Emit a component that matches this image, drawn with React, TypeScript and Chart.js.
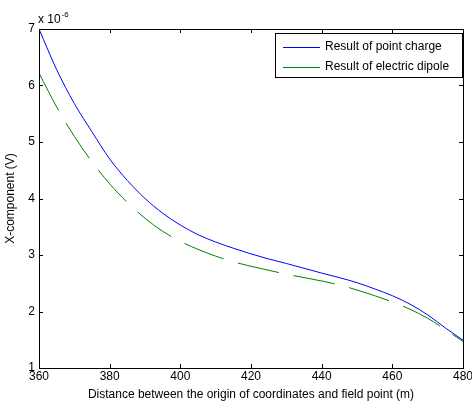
import React, { useEffect, useRef } from "react";
import { Chart, registerables } from "chart.js";

Chart.register(...registerables);

// x positions (m) and values in units of 1e-6 V
const distances = [360, 365, 370, 375, 380, 385, 390, 395, 400, 405, 410, 415, 420, 425, 430, 435, 440, 445, 450, 455, 460, 465, 470, 475, 480];
const pointCharge = [7.0, 6.28, 5.68, 5.18, 4.7, 4.32, 4.0, 3.74, 3.53, 3.36, 3.23, 3.12, 3.02, 2.93, 2.85, 2.765, 2.68, 2.6, 2.51, 2.4, 2.28, 2.13, 1.94, 1.71, 1.49];
const electricDipole = [6.22, 5.62, 5.1, 4.65, 4.26, 3.93, 3.65, 3.42, 3.24, 3.1, 2.98, 2.88, 2.8, 2.73, 2.66, 2.6, 2.54, 2.47, 2.38, 2.28, 2.17, 2.04, 1.88, 1.68, 1.47];
const seriesNames = ["Result of point charge", "Result of electric dipole"];
const seriesColors = ["#0000ff", "#008000"];
const xTicks = [360, 380, 400, 420, 440, 460, 480];
const yTicks = [1, 2, 3, 4, 5, 6, 7];
const xTitle = "Distance between the origin of coordinates and field point (m)";
const yTitle = "X-component (V)";

const FONT = "Liberation Sans, Arial, sans-serif";

const framePlugin = {
  id: "matlabFrame",
  afterDatasetsDraw(chart: any) {
    const { ctx, chartArea: a, scales } = chart;
    const xs = scales.x;
    const ys = scales.y;
    ctx.save();
    ctx.strokeStyle = "#000";
    ctx.lineWidth = 1;
    // box
    ctx.strokeRect(Math.round(a.left) + 0.5, Math.round(a.top) + 0.5, Math.round(a.right - a.left), Math.round(a.bottom - a.top));
    // inward ticks
    const tl = 4;
    ctx.beginPath();
    xTicks.forEach((v) => {
      const px = Math.round(xs.getPixelForValue(v)) + 0.5;
      ctx.moveTo(px, a.bottom);
      ctx.lineTo(px, a.bottom - tl);
      ctx.moveTo(px, a.top);
      ctx.lineTo(px, a.top + tl);
    });
    yTicks.forEach((v) => {
      const py = Math.round(ys.getPixelForValue(v)) + 0.5;
      ctx.moveTo(a.left, py);
      ctx.lineTo(a.left + tl, py);
      ctx.moveTo(a.right, py);
      ctx.lineTo(a.right - tl, py);
    });
    ctx.stroke();

    ctx.fillStyle = "#000";
    // x tick labels
    ctx.font = `12px ${FONT}`;
    ctx.textAlign = "center";
    ctx.textBaseline = "top";
    xTicks.forEach((v) => {
      ctx.fillText(String(v), xs.getPixelForValue(v), a.bottom + 3);
    });

    // exponent label
    ctx.textBaseline = "alphabetic";
    ctx.textAlign = "left";
    ctx.fillText("x 10", a.left - 1, a.top - 6);
    const w = ctx.measureText("x 10").width;
    ctx.font = `8px ${FONT}`;
    ctx.fillText("-6", a.left - 1 + w + 1, a.top - 12);

    // axis titles
    ctx.font = `12px ${FONT}`;
    ctx.textAlign = "center";
    ctx.textBaseline = "middle";
    ctx.fillText(xTitle, (a.left + a.right) / 2, 395);
    ctx.save();
    ctx.translate(11, (a.top + a.bottom) / 2);
    ctx.rotate(-Math.PI / 2);
    ctx.fillText(yTitle, 0, 0);
    ctx.restore();

    // legend
    const lx = 275.5, ly = 33.5, lw = 187, lh = 44;
    ctx.fillStyle = "#fff";
    ctx.fillRect(lx, ly, lw, lh);
    ctx.strokeStyle = "#000";
    ctx.strokeRect(lx, ly, lw, lh);
    const rows = [47, 66.5];
    seriesNames.forEach((name, i) => {
      ctx.fillStyle = seriesColors[i];
      ctx.fillRect(283, Math.round(rows[i]), 37, 1);
      ctx.fillStyle = "#000";
      ctx.textAlign = "left";
      ctx.textBaseline = "middle";
      ctx.fillText(name, 325, rows[i]);
    });
    ctx.restore();
  },
};

export default function App() {
  const ref = useRef<HTMLCanvasElement | null>(null);
  useEffect(() => {
    document.body.style.margin = "0";
    const canvas = ref.current!;
    const chart = new Chart(canvas, {
      type: "line",
      data: {
        datasets: [
          {
            label: seriesNames[0],
            data: distances.map((x, i) => ({ x, y: pointCharge[i] })),
            borderColor: seriesColors[0],
            borderWidth: 1,
            pointRadius: 0,
            cubicInterpolationMode: "monotone",
            fill: false,
          },
          {
            label: seriesNames[1],
            data: distances.map((x, i) => ({ x, y: electricDipole[i] })),
            borderColor: seriesColors[1],
            borderWidth: 1,
            borderDash: [42, 15],
            pointRadius: 0,
            cubicInterpolationMode: "monotone",
            fill: false,
          },
        ],
      },
      options: {
        animation: false,
        responsive: false,
        layout: { padding: { top: 29, right: 9, left: 0, bottom: 0 } },
        plugins: { legend: { display: false }, tooltip: { enabled: false } },
        scales: {
          x: {
            type: "linear",
            min: 360,
            max: 480,
            afterFit: (s: any) => { s.height = 40; },
            grid: { display: false, drawTicks: false },
            border: { display: false },
            ticks: { display: false },
          },
          y: {
            type: "linear",
            min: 1,
            max: 7,
            afterFit: (s: any) => { s.width = 39; },
            afterBuildTicks: (s: any) => { s.ticks = yTicks.map((v) => ({ value: v })); },
            grid: { display: false, drawTicks: false },
            border: { display: false },
            ticks: { color: "#000", font: { family: FONT, size: 12 }, padding: 4, autoSkip: false },
          },
        },
      } as any,
      plugins: [framePlugin],
    });
    return () => chart.destroy();
  }, []);
  return (
    <div style={{ width: 472, height: 408, background: "#fff" }}>
      <canvas ref={ref} width={472} height={408} style={{ display: "block", width: 472, height: 408 }} />
    </div>
  );
}
